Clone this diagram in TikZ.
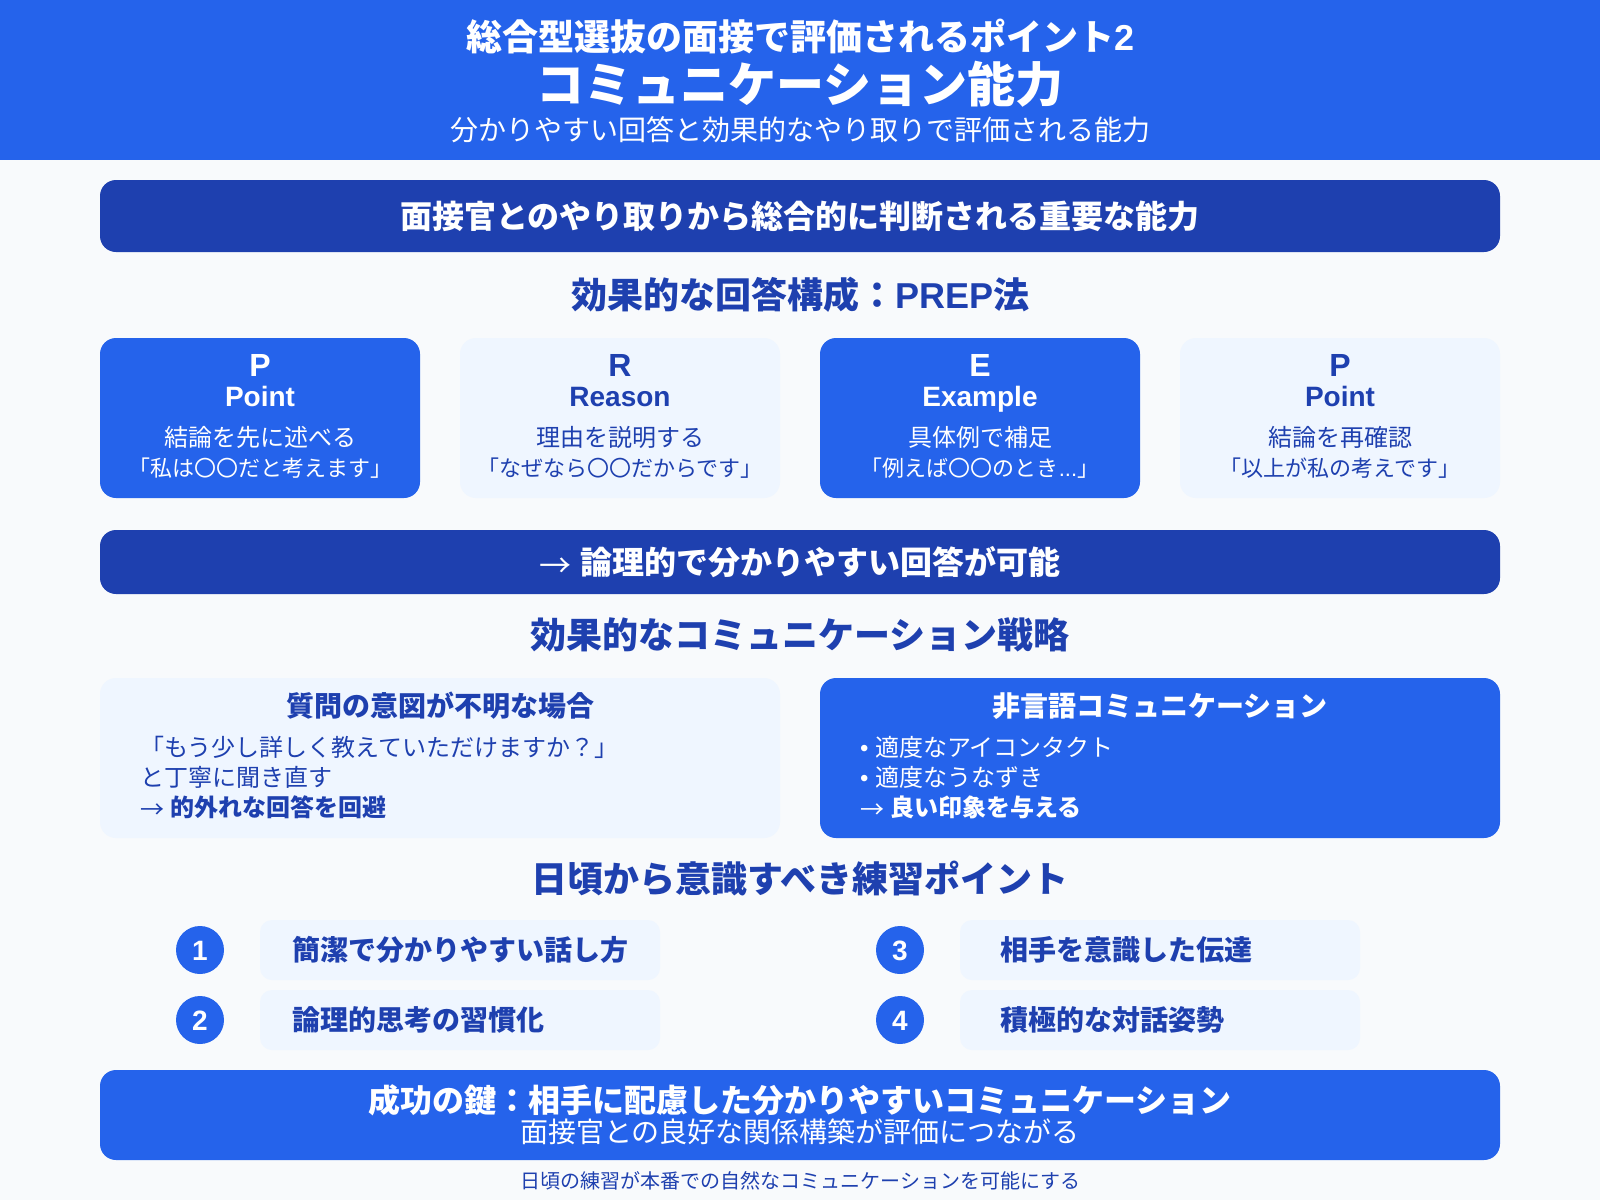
\documentclass[tikz,border=0pt]{standalone}
\usepackage{fontspec}
\setmainfont{Noto Sans CJK JP}
\newfontfamily\lf{Liberation Sans}
\definecolor{blueA}{HTML}{2563EB}
\definecolor{blueB}{HTML}{1E40AF}
\definecolor{blueC}{HTML}{EFF6FF}
\definecolor{pageBg}{HTML}{F8FAFC}
\newcommand{\fs}[1]{\fontsize{#1}{#1}\selectfont}
\newcommand{\arr}{\raisebox{-0.12em}{\mdseries →}{\lf\ }}
\tikzset{
  panel/.style={inner sep=0pt,outer sep=0pt,rounded corners=16pt},
  txt/.style={inner sep=0pt,outer sep=0pt,anchor=base},
  txtl/.style={inner sep=0pt,outer sep=0pt,anchor=base west},
  head/.style={txt,text=blueB,font=\fs{36}\bfseries},
  numdot/.style={circle,fill=blueA,inner sep=0pt,minimum size=48pt,text=white},
  pillbox/.style={inner sep=0pt,outer sep=0pt,rounded corners=12pt,fill=blueC,minimum width=400pt,minimum height=60pt},
}
\begin{document}
\begin{tikzpicture}[x=1pt,y=-1pt]
\useasboundingbox (0,0) rectangle (1600,1200);
\fill[pageBg] (0,0) rectangle (1600,1200);
\fill[blueA] (0,0) rectangle (1600,160);
% header
\node[txt,text=white,font=\fs{36}\bfseries] (t1) at (800.5,50) {総合型選抜の面接で評価されるポイント{\lf 2}};
\node[txt,text=white,font=\fs{48}\bfseries] (t2) at (800,102) {コミュニケーション能力};
\node[txt,text=white,font=\fs{28}] (t3) at (800,140) {分かりやすい回答と効果的なやり取りで評価される能力};
% banner 1
\node[panel,fill=blueB,minimum width=1400pt,minimum height=72pt] (b1) at (800,216) {};
\node[txt,text=white,font=\fs{32}\bfseries] (b1t) at (800,228) {面接官とのやり取りから総合的に判断される重要な能力};
\node[head] (h1) at (800.5,308) {効果的な回答構成：{\lf PREP}法};
% PREP cards
\node[panel,fill=blueA,minimum width=320pt,minimum height=160pt] (c1) at (260,418) {};
\node[panel,fill=blueC,minimum width=320pt,minimum height=160pt] (c2) at (620,418) {};
\node[panel,fill=blueA,minimum width=320pt,minimum height=160pt] (c3) at (980,418) {};
\node[panel,fill=blueC,minimum width=320pt,minimum height=160pt] (c4) at (1340,418) {};
\node[txt,text=white,font=\lf\fs{32}\bfseries] (c1a) at (260,376) {P};
\node[txt,text=white,font=\lf\fs{28}\bfseries] (c1b) at (260,406) {Point};
\node[txt,text=white,font=\fs{24}] (c1c) at (260,446) {結論を先に述べる};
\node[txt,text=white,font=\fs{22}] (c1d) at (260,476) {「私は〇〇だと考えます」};
\node[txt,text=blueB,font=\lf\fs{32}\bfseries] (c2a) at (620,376) {R};
\node[txt,text=blueB,font=\lf\fs{28}\bfseries] (c2b) at (620,406) {Reason};
\node[txt,text=blueB,font=\fs{24}] (c2c) at (620,446) {理由を説明する};
\node[txt,text=blueB,font=\fs{22}] (c2d) at (620,476) {「なぜなら〇〇だからです」};
\node[txt,text=white,font=\lf\fs{32}\bfseries] (c3a) at (980,376) {E};
\node[txt,text=white,font=\lf\fs{28}\bfseries] (c3b) at (980,406) {Example};
\node[txt,text=white,font=\fs{24}] (c3c) at (980,446) {具体例で補足};
\node[txt,text=white,font=\fs{22}] (c3d) at (980,476) {「例えば〇〇のとき{\lf ...}」};
\node[txt,text=blueB,font=\lf\fs{32}\bfseries] (c4a) at (1340,376) {P};
\node[txt,text=blueB,font=\lf\fs{28}\bfseries] (c4b) at (1340,406) {Point};
\node[txt,text=blueB,font=\fs{24}] (c4c) at (1340,446) {結論を再確認};
\node[txt,text=blueB,font=\fs{22}] (c4d) at (1340,476) {「以上が私の考えです」};
% banner 2
\node[panel,fill=blueB,minimum width=1400pt,minimum height=64pt] (b2) at (800,562) {};
\node[txt,text=white,font=\fs{32}\bfseries] (b2t) at (800,574) {\arr 論理的で分かりやすい回答が可能};
\node[head] (h2) at (800,648) {効果的なコミュニケーション戦略};
% strategy cards
\node[panel,fill=blueC,minimum width=680pt,minimum height=160pt] (s1) at (440,758) {};
\node[panel,fill=blueA,minimum width=680pt,minimum height=160pt] (s2) at (1160,758) {};
\node[txt,text=blueB,font=\fs{28}\bfseries] (s1h) at (440,716) {質問の意図が不明な場合};
\node[txtl,text=blueB,font=\fs{24}] (s1a) at (140,756) {「もう少し詳しく教えていただけますか？」};
\node[txtl,text=blueB,font=\fs{24}] (s1b) at (140,786) {と丁寧に聞き直す};
\node[txtl,text=blueB,font=\fs{24}\bfseries] (s1c) at (140,816) {\arr 的外れな回答を回避};
\node[txt,text=white,font=\fs{28}\bfseries] (s2h) at (1160,716) {非言語コミュニケーション};
\node[txtl,text=white,font=\fs{24}] (s2a) at (860,756) {{\lf • }適度なアイコンタクト};
\node[txtl,text=white,font=\fs{24}] (s2b) at (860,786) {{\lf • }適度なうなずき};
\node[txtl,text=white,font=\fs{24}\bfseries] (s2c) at (860,816) {\arr 良い印象を与える};
\node[head] (h3) at (800,892) {日頃から意識すべき練習ポイント};
% practice list
\node[numdot] (n1) at (200,950) {};
\node[numdot] (n2) at (200,1020) {};
\node[numdot] (n3) at (900,950) {};
\node[numdot] (n4) at (900,1020) {};
\node[txt,text=white,font=\lf\fs{28}\bfseries] (n1t) at (200,960) {1};
\node[txt,text=white,font=\lf\fs{28}\bfseries] (n2t) at (200,1030) {2};
\node[txt,text=white,font=\lf\fs{28}\bfseries] (n3t) at (900,960) {3};
\node[txt,text=white,font=\lf\fs{28}\bfseries] (n4t) at (900,1030) {4};
\node[pillbox] (p1) at (460,950) {};
\node[pillbox] (p2) at (460,1020) {};
\node[pillbox] (p3) at (1160,950) {};
\node[pillbox] (p4) at (1160,1020) {};
\node[txtl,text=blueB,font=\fs{28}\bfseries] (p1t) at (292,960) {簡潔で分かりやすい話し方};
\node[txtl,text=blueB,font=\fs{28}\bfseries] (p2t) at (292,1030) {論理的思考の習慣化};
\node[txtl,text=blueB,font=\fs{28}\bfseries] (p3t) at (1000,960) {相手を意識した伝達};
\node[txtl,text=blueB,font=\fs{28}\bfseries] (p4t) at (1000,1030) {積極的な対話姿勢};
% bottom
\node[panel,fill=blueA,minimum width=1400pt,minimum height=90pt] (f1) at (800,1115) {};
\node[txt,text=white,font=\fs{32}\bfseries] (f1a) at (800,1112) {成功の鍵：相手に配慮した分かりやすいコミュニケーション};
\node[txt,text=white,font=\fs{28}] (f1b) at (800,1142) {面接官との良好な関係構築が評価につながる};
\node[txt,text=blueB,font=\fs{20}] (f2) at (800.5,1188) {日頃の練習が本番での自然なコミュニケーションを可能にする};
\end{tikzpicture}
\end{document}
